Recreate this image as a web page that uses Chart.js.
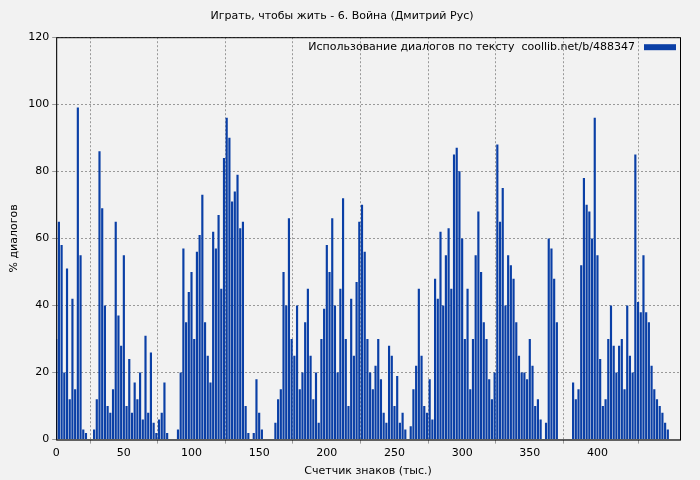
<!DOCTYPE html>
<html><head><meta charset="utf-8">
<script src="https://cdn.jsdelivr.net/npm/chart.js@4"></script>
<style>html,body{margin:0;background:#f2f2f2}#wrap{width:700px;height:480px}</style>
</head><body><div id="wrap"><canvas id="c"></canvas></div>
<script>
const chartTitle = 'Играть, чтобы жить - 6. Война (Дмитрий Рус)';
const seriesLabel = 'Использование диалогов по тексту  coollib.net/b/488347';
const xTitle = 'Счетчик знаков (тыс.)';
const yTitle = '% диалогов';
// thousands of characters (step 2)
const positions = [];
const values = [30,65,58,20,51,12,42,15,99,55,3,2,0,0,3,12,86,69,40,10,8,15,65,37,28,55,10,24,8,17,12,20,6,31,8,26,5,2,6,8,
17,2,0,0,0,3,20,57,35,44,50,30,56,61,73,35,25,17,62,57,67,45,84,96,90,71,74,79,63,65,10,2,0,2,18,8,3,0,0,0,
0,5,12,15,50,40,66,30,25,40,15,20,35,45,25,12,20,5,30,39,58,50,66,40,20,45,72,30,10,42,25,47,65,70,56,30,20,15,22,30,
18,8,5,28,25,10,19,5,8,3,0,4,15,22,45,25,10,8,18,6,48,42,62,40,55,63,45,85,87,80,60,30,45,15,30,55,68,50,35,30,
18,12,20,88,65,75,40,55,52,48,35,25,20,20,18,30,22,10,12,6,0,5,60,57,48,35,0,0,0,0,0,17,12,15,52,78,70,68,60,96,
55,24,10,12,30,40,28,20,28,30,15,40,25,20,85,41,38,55,38,35,22,15,12,10,8,5,3];
for (let i = 0; i < values.length; i++) positions.push(i * 2);

const font = {family: 'DejaVu Sans', size: 11};
Chart.defaults.color = '#000';
const legendBox = {
  id: 'legendBox',
  afterDraw(ch) {
    const c = ch.ctx, a = ch.chartArea;
    c.save();
    c.strokeStyle = '#000';
    c.lineWidth = 1;
    c.strokeRect(a.left + 0.5, a.top + 0.5, a.right - a.left, a.bottom - a.top);
    c.font = '11px DejaVu Sans';
    c.fillStyle = '#000';
    c.textAlign = 'right';
    c.textBaseline = 'middle';
    c.fillText(seriesLabel, a.right - 45, a.top + 10);
    c.fillStyle = '#0a3fa6';
    c.fillRect(a.right - 36, a.top + 7, 32, 6);
    c.restore();
  }
};
new Chart(document.getElementById('c'), {
  type: 'bar',
  data: {datasets: [{label: seriesLabel, data: values.map((v, i) => ({x: positions[i], y: v})),
    backgroundColor: '#0a3fa6', barPercentage: 0.8, categoryPercentage: 1, borderWidth: 0}]},
  options: {
    responsive: true, maintainAspectRatio: false, animation: false,
    layout: {padding: {right: 20, top: 4, left: 4}},
    plugins: {
      legend: {display: false},
      title: {display: true, text: chartTitle, font: {family: 'DejaVu Sans', size: 11, weight: 'normal'}, padding: {top: 6, bottom: 14}}
    },
    scales: {
      x: {type: 'linear', min: 0, max: 461, offset: false,
        ticks: {stepSize: 50, font: font, maxRotation: 0, callback: v => v % 50 === 0 ? v : ''},
        grid: {color: '#999', tickLength: 4},
        border: {color: '#999', dash: [2, 2]},
        title: {display: true, text: xTitle, font: font, padding: 2}},
      y: {min: 0, max: 120,
        ticks: {stepSize: 20, font: font},
        grid: {color: '#999', tickLength: 4},
        border: {color: '#999', dash: [2, 2]},
        title: {display: true, text: yTitle, font: font}}
    }
  },
  plugins: [legendBox]
});
</script></body></html>
